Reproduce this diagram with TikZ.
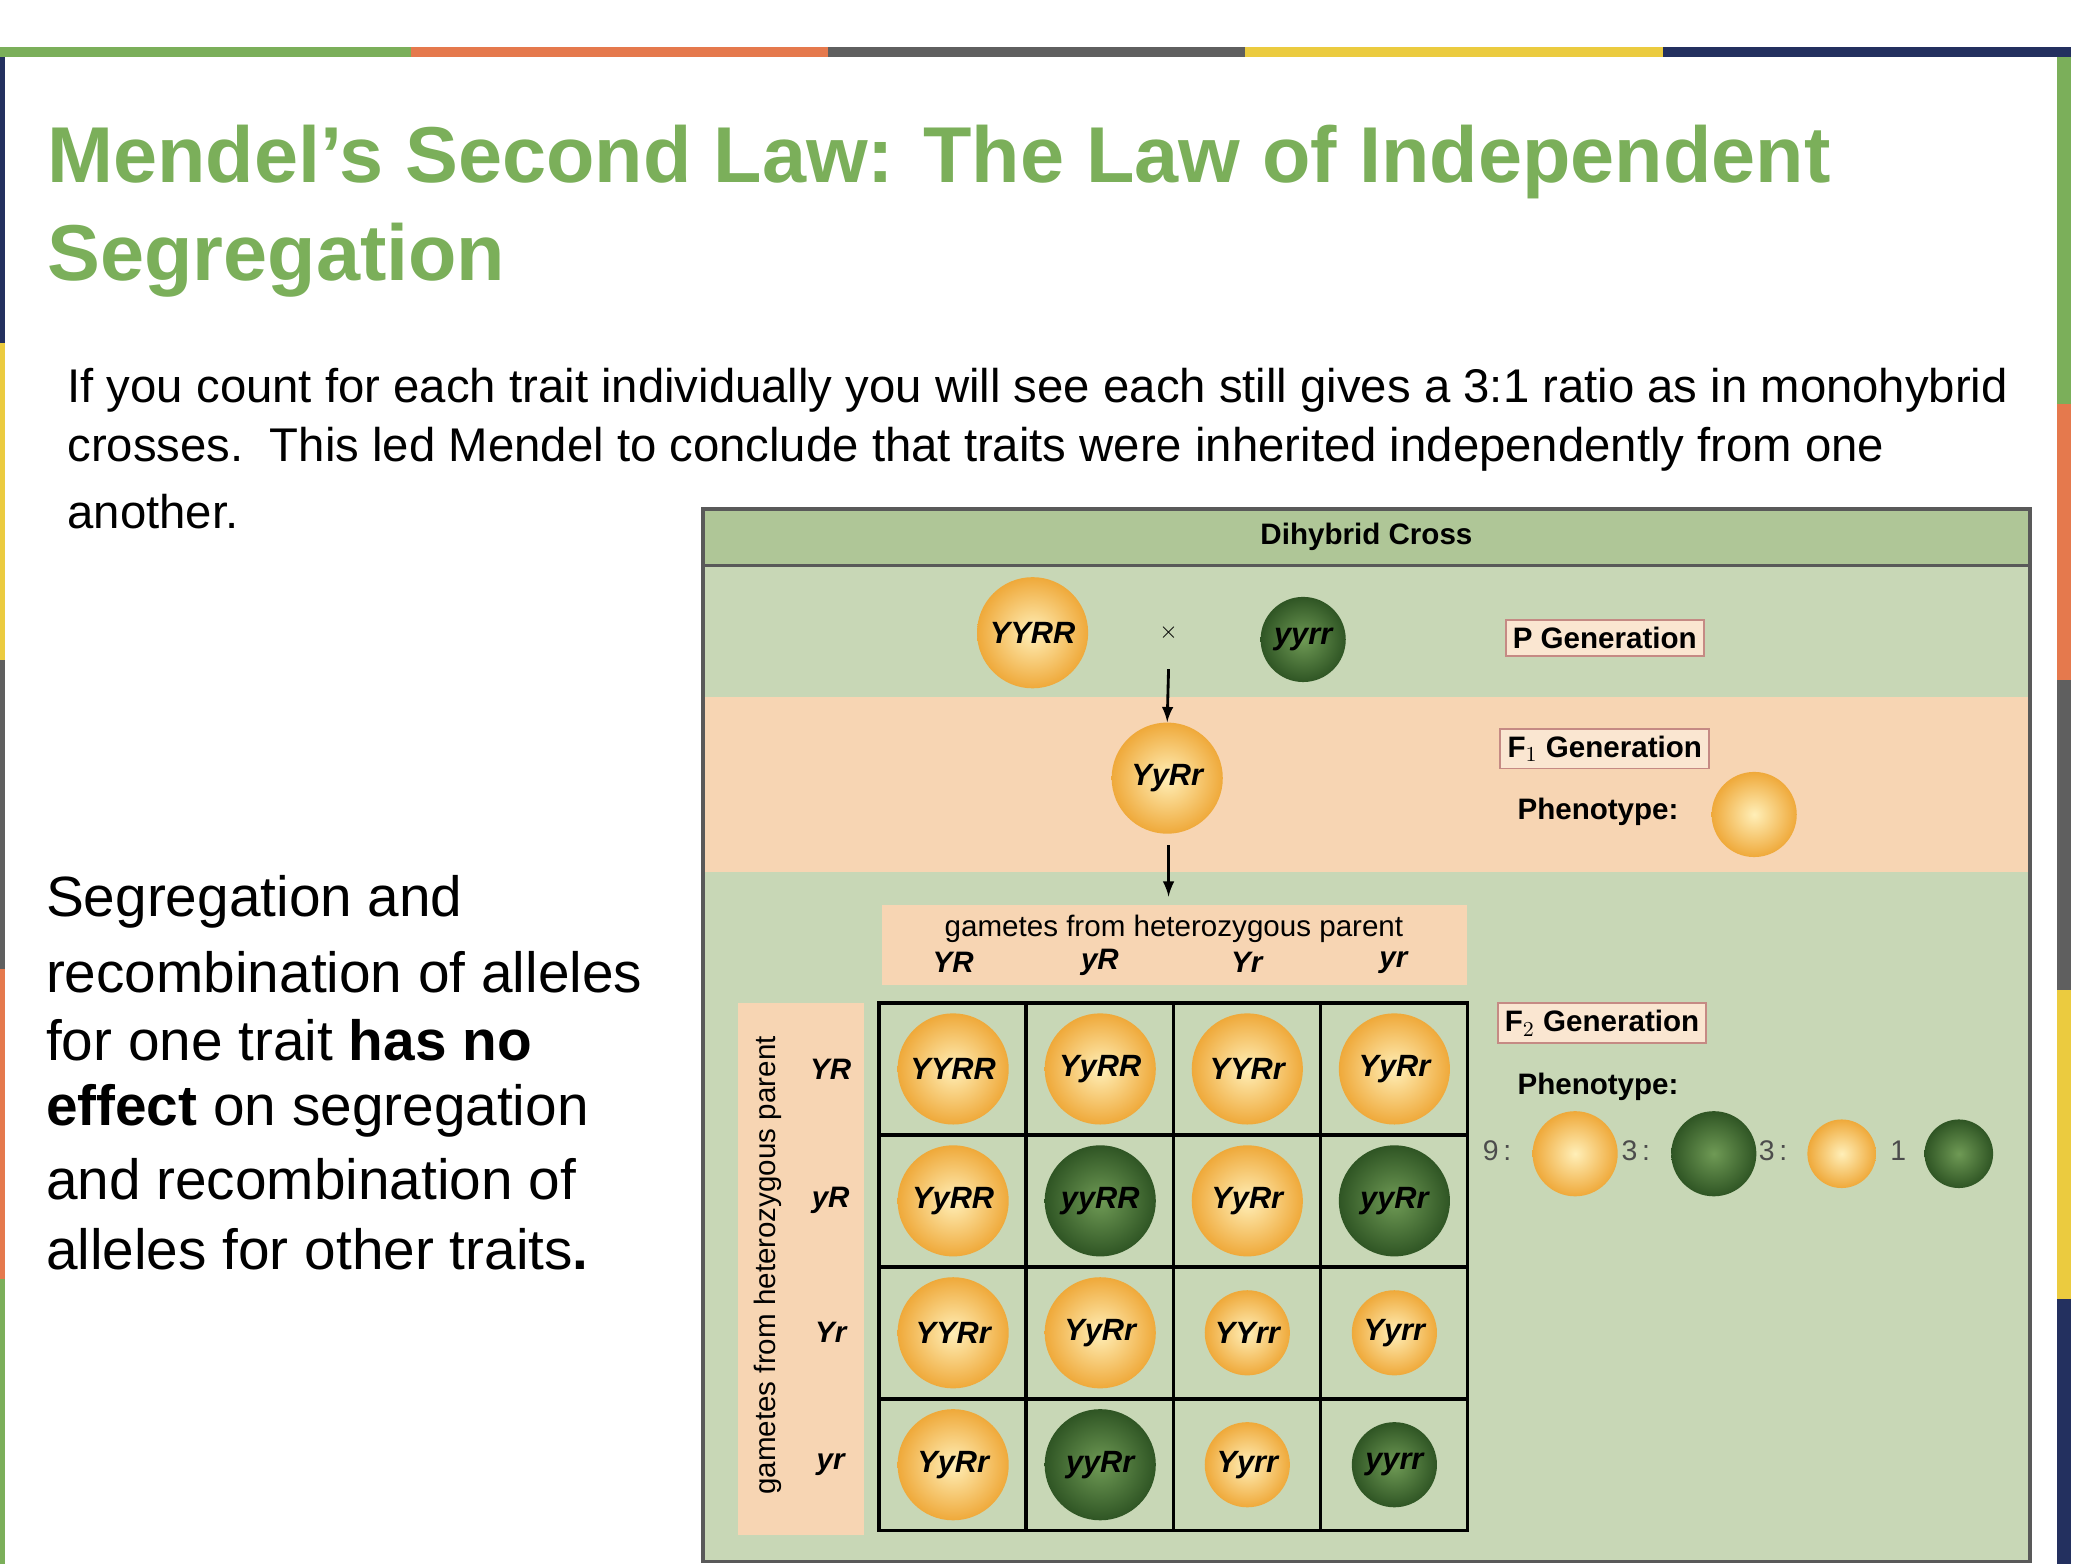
\documentclass[tikz,border=0pt]{standalone}
\usepackage{fontspec}
\setmainfont{Liberation Sans}
\usetikzlibrary{positioning}
\definecolor{ttlgreen}{HTML}{7BAF5A}
\definecolor{cgreen}{HTML}{7BAF5A}
\definecolor{corange}{HTML}{E5794D}
\definecolor{cgray}{HTML}{5F5F5F}
\definecolor{cyellow}{HTML}{EBCB3F}
\definecolor{cnavy}{HTML}{23305F}
\definecolor{boxbg}{HTML}{C8D7B6}
\definecolor{boxhead}{HTML}{AFC697}
\definecolor{peach}{HTML}{F7D5B3}
\definecolor{lblborder}{HTML}{C58A84}
\definecolor{peain}{HTML}{FFEFB8}
\definecolor{peaout}{HTML}{EFA93A}
\definecolor{gin}{HTML}{6F9A55}
\definecolor{gout}{HTML}{2F5524}
\newcommand{\pt}[1]{\fontsize{#1}{#1}\selectfont}
\tikzset{
  pea/.style={circle, inner color=peain, outer color=peaout, minimum size=47pt, inner sep=0pt, font=\pt{13}\bfseries\itshape},
  wpea/.style={pea, minimum size=36pt},
  gpea/.style={pea, inner color=gin, outer color=gout},
  wgpea/.style={gpea, minimum size=36pt},
  lbl/.style={draw=lblborder, fill=white!40!peach, thick, inner sep=3pt, font=\pt{12.5}\bfseries},
  gam/.style={font=\pt{12.5}\bfseries\itshape},
  body/.style={anchor=west, font=\pt{20}},
  side/.style={anchor=west, font=\pt{24}},
}
\begin{document}
\begin{tikzpicture}[x=0.02cm, y=-0.02cm]
  \useasboundingbox[fill=white] (0,0) rectangle (1548,1162);
  % borders
  \fill[cgreen] (0,35) rectangle (305,42);
  \fill[corange] (305,35) rectangle (615,42);
  \fill[cgray] (615,35) rectangle (925,42);
  \fill[cyellow] (925,35) rectangle (1235,42);
  \fill[cnavy] (1235,35) rectangle (1538,42);
  \fill[cnavy] (0,42) rectangle (4,255);
  \fill[cyellow] (0,255) rectangle (4,490);
  \fill[cgray] (0,490) rectangle (4,720);
  \fill[corange] (0,720) rectangle (4,950);
  \fill[cgreen] (0,950) rectangle (4,1162);
  \fill[cgreen] (1528,42) rectangle (1538,300);
  \fill[corange] (1528,300) rectangle (1538,505);
  \fill[cgray] (1528,505) rectangle (1538,735);
  \fill[cyellow] (1528,735) rectangle (1538,965);
  \fill[cnavy] (1528,965) rectangle (1538,1162);
  % title
  \node[anchor=west, text=ttlgreen, font=\pt{33.5}\bfseries] (t1) at (29,120) {Mendel’s Second Law: The Law of Independent};
  \node[anchor=west, text=ttlgreen, font=\pt{33.5}\bfseries] (t2) at (29,193) {Segregation};
  % paragraph
  \node[body] (b1) at (44,290) {If you count for each trait individually you will see each still gives a 3:1 ratio as in monohybrid};
  \node[body] (b2) at (44,334) {crosses.\ \ This led Mendel to conclude that traits were inherited independently from one};
  \node[body] (b3) at (44,380) {another.};
  % side text
  \node[side] (s1) at (28,670) {Segregation and};
  \node[side] (s2) at (28,722) {recombination of alleles};
  \node[side] (s3) at (28,773) {for one trait \textbf{has no}};
  \node[side] (s4) at (28,825) {\textbf{effect} on segregation};
  \node[side] (s5) at (28,876) {and recombination of};
  \node[side] (s6) at (28,928) {alleles for other traits\textbf{.}};
  % diagram frame
  \fill[boxbg] (522,378) rectangle (1508,1160);
  \fill[boxhead] (522,378) rectangle (1508,420);
  \fill[peach] (522,518) rectangle (1508,648);
  \fill[peach] (655,672) rectangle (1090,732);
  \fill[peach] (548,745) rectangle (642,1140);
  \draw[gray!70!black, line width=1.5pt] (522,378) rectangle (1508,1160);
  \draw[gray!70!black, line width=1pt] (522,420) -- (1508,420);
  \node[font=\pt{12.5}\bfseries] (head) at (1015,399) {Dihybrid Cross};
  % P and F1
  \node[pea] (p1) at (767,470) {YYRR};
  \node[font=\pt{10}] (cross) at (868,470) {$\times$};
  \node[wgpea] (p2) at (968,475) {yyrr};
  \node[pea] (f1) at (867,578) {YyRr};
  \coordinate (a1) at (868,497);
  \coordinate (a2) at (868,628);
  \coordinate (a3) at (868,666);
  \draw[-latex, line width=1.2pt] (a1) -- (f1.north);
  \draw[-latex, line width=1.2pt] (a2) -- (a3);
  \node[lbl] (pg) at (1192,474) {P Generation};
  \node[lbl] (f1g) at (1192,556) {F$_1$ Generation};
  \node[font=\pt{12.5}\bfseries] (ph1) at (1187,603) {Phenotype:};
  \node[pea, minimum size=36pt] (ph1p) at (1303,605) {};
  % F2 side
  \node[lbl] (f2g) at (1190,760) {F$_2$ Generation};
  \node[font=\pt{12.5}\bfseries] (ph2) at (1187,807) {Phenotype:};
  \node[font=\pt{12}, text=gray!60!black] (n9) at (1112,855) {9\,:};
  \node[pea, minimum size=36pt] (q1) at (1170,857) {};
  \node[font=\pt{12}, text=gray!60!black] (n3a) at (1215,855) {3\,:};
  \node[gpea, minimum size=36pt] (q2) at (1273,857) {};
  \node[font=\pt{12}, text=gray!60!black] (n3b) at (1317,855) {3\,:};
  \node[pea, minimum size=29pt] (q3) at (1368,857) {};
  \node[font=\pt{12}, text=gray!60!black] (n1) at (1410,855) {1};
  \node[gpea, minimum size=29pt] (q4) at (1455,857) {};
  % gametes
  \node[font=\pt{12.5}] (gtop) at (872,690) {gametes from heterozygous parent};
  \node[font=\pt{12.5}, rotate=90] (gside) at (570,940) {gametes from heterozygous parent};
  \foreach \g [count=\i] in {YR,yR,Yr,yr} {
    \node[gam] (c\i) at (599+\i*109,715) {\g};
    \node[gam] (r\i) at (617,696+\i*98) {\g};
  }
  % grid
  \draw[line width=1.5pt] (653,745) rectangle (1090,1137);
  \foreach \i in {1,2,3} {
    \draw[line width=1.5pt] (653+\i*109.25,745) -- (653+\i*109.25,1137);
    \draw[line width=1.5pt] (653,745+\i*98) -- (1090,745+\i*98);
  }
  % offspring
  \foreach \g/\s [count=\k from 0] in {YYRR/pea,YyRR/pea,YYRr/pea,YyRr/pea,
      YyRR/pea,yyRR/gpea,YyRr/pea,yyRr/gpea,
      YYRr/pea,YyRr/pea,YYrr/wpea,Yyrr/wpea,
      YyRr/pea,yyRr/gpea,Yyrr/wpea,yyrr/wgpea} {
    \pgfmathtruncatemacro{\cc}{mod(\k,4)}
    \pgfmathtruncatemacro{\rr}{div(\k,4)}
    \node[\s] (o\k) at (708+\cc*109.25,794+\rr*98) {\g};
  }
\end{tikzpicture}
\end{document}
